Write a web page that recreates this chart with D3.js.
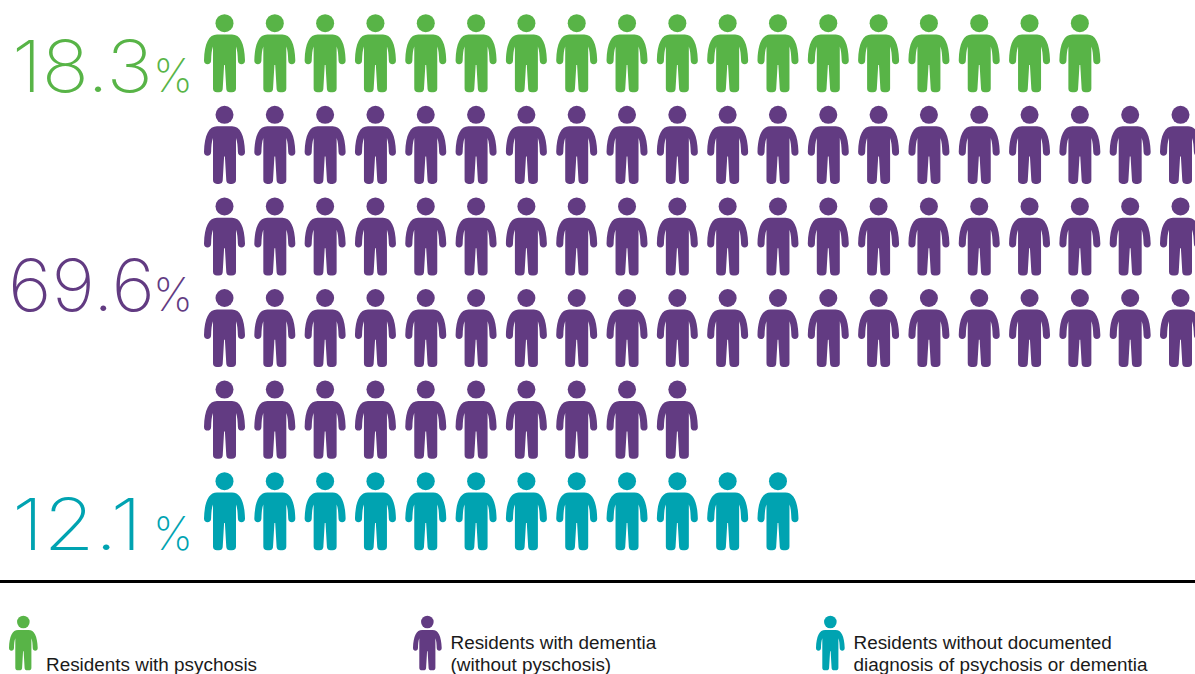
<!DOCTYPE html>
<html>
<head>
<meta charset="utf-8">
<script src="https://cdn.jsdelivr.net/npm/d3@7"></script>
<style>
  html, body { margin: 0; padding: 0; background: #fff; overflow: hidden; }
  svg { display: block; }
  .pct { font-family: Inter, sans-serif; font-weight: 150; }
  .leg { font-family: "Liberation Sans", sans-serif; font-size: 18.9px; fill: #1a1a1a; }
</style>
</head>
<body>
<svg id="chart" width="1195" height="674"></svg>
<script>
// one icon = one percent of residents
const categories = ["psychosis", "dementia", "neither"];
const percents = [18.3, 69.6, 12.1];
const iconCounts = [18, 70, 12];
const percentText = ["18.3", "69.6", "12.1"];
const legendLines = [
  ["Residents with psychosis"],
  ["Residents with dementia", "(without pyschosis)"],
  ["Residents without documented", "diagnosis of psychosis or dementia"]
];

const perRow = 20;
const width = 1195, height = 674;

const svg = d3.select("#chart");

const color = d3.scaleOrdinal()
  .domain(categories)
  .range(["#58b447", "#623b82", "#00a3b1"]);

// person glyph, 41 x 78
const body = "M13,20.6 L28,20.6 C36,20.6 40.5,29 41,46.5 C41,49 39.5,50.2 37.5,50.2 C35.5,50.2 34,49 33.9,46.5 "
  + "C33.7,41 33.4,36 32,32.5 L32,74.5 C32,77 30.5,78.3 28,78.3 L26,78.3 C23.8,78.3 22.4,77 22.3,75 L20.9,51 "
  + "L20.1,51 L18.7,75 C18.6,77 17.2,78.3 15,78.3 L13,78.3 C10.5,78.3 9,77 9,74.5 L9,32.5 "
  + "C7.6,36 7.3,41 7.1,46.5 C7,49 5.5,50.2 3.5,50.2 C1.5,50.2 0,49 0,46.5 C0.5,29 5,20.6 13,20.6 Z";

function person(sel) {
  sel.append("circle").attr("cx", 20.5).attr("cy", 9.2).attr("r", 9);
  sel.append("path").attr("d", body);
}

// lay the icons out row by row, each category starts on a new row
let people = [];
let row = 0;
categories.forEach((c, i) => {
  d3.range(iconCounts[i]).forEach(k => {
    people.push({ cat: c, col: k % perRow, row: row + Math.floor(k / perRow) });
  });
  row += Math.ceil(iconCounts[i] / perRow);
});

const x = d3.scaleLinear().domain([0, perRow - 1]).range([204, 1160]);
const y = d3.scaleLinear().domain([0, row - 1]).range([14, 472]);

svg.selectAll("g.person")
  .data(people)
  .join("g")
  .attr("class", "person")
  .attr("fill", d => color(d.cat))
  .attr("transform", d => `translate(${x(d.col)},${y(d.row)})`)
  .each(function () { person(d3.select(this)); });

// big percentages
const pctX = [12, 8, 12];
const pctBase = [92, 311, 550];
const pctWidth = [141, 147, 130];

categories.forEach((c, i) => {
  svg.append("text")
    .attr("class", "pct")
    .attr("x", pctX[i])
    .attr("y", pctBase[i])
    .attr("fill", color(c))
    .attr("font-size", 72)
    .attr("textLength", pctWidth[i])
    .attr("lengthAdjust", "spacingAndGlyphs")
    .text(percentText[i]);
  svg.append("text")
    .attr("class", "pct")
    .attr("x", 153)
    .attr("y", pctBase[i])
    .attr("fill", color(c))
    .attr("font-size", 46)
    .attr("textLength", 40)
    .attr("lengthAdjust", "spacingAndGlyphs")
    .text("%");
});

svg.append("line")
  .attr("x1", 0).attr("x2", width)
  .attr("y1", 581.5).attr("y2", 581.5)
  .attr("stroke", "#000").attr("stroke-width", 3);

// legend
const legendIconX = [9, 413, 816];
const legendTextX = [46, 450.5, 853.5];
const lastBase = 671, lineGap = 22;

categories.forEach((c, i) => {
  svg.append("g")
    .attr("fill", color(c))
    .attr("transform", `translate(${legendIconX[i]},615.5) scale(0.7)`)
    .call(person);
  const lines = legendLines[i];
  svg.selectAll(null)
    .data(lines)
    .join("text")
    .attr("class", "leg")
    .attr("x", legendTextX[i])
    .attr("y", (d, k) => lastBase - (lines.length - 1 - k) * lineGap)
    .text(d => d);
});
</script>
</body>
</html>
